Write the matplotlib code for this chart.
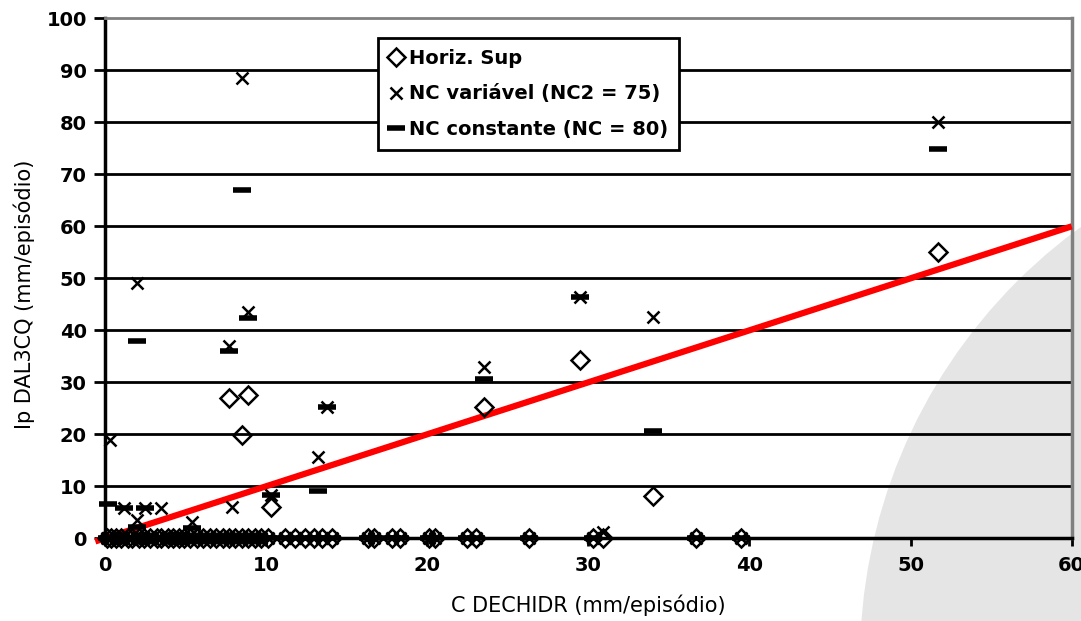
import matplotlib
matplotlib.use('Agg')
from matplotlib import pyplot as plt
from matplotlib import patches
from matplotlib.transforms import IdentityTransform

plt.rcParams['font.family'] = ['DejaVu Sans']

##### Data #####
# events where all three series sit at zero
zero_x = [0.1, 0.4, 0.7, 1.0, 1.4, 1.7, 2.1, 2.4, 2.8, 3.2, 3.5, 3.9, 4.2, 4.6,
          4.9, 5.3, 5.7, 6.1, 6.5, 6.9, 7.3, 7.7, 8.1, 8.5, 8.9, 9.3, 9.7, 10.1,
          11.2, 11.8, 12.4, 13.0, 13.5, 14.1, 16.3, 16.7, 17.8, 18.3, 20.1, 20.5,
          22.5, 23.0, 26.3, 30.3, 36.7, 39.5]

hs_x = [7.7, 8.9, 8.5, 10.3, 23.5, 29.5, 34.0, 51.7, 30.9]
hs_y = [26.9, 27.6, 19.9, 6.0, 25.3, 34.3, 8.1, 55.0, 0.0]

nv_x = [0.3, 2.0, 8.5, 8.9, 7.7, 13.8, 13.2, 10.3, 7.9, 1.2, 2.5, 3.5, 2.0, 5.4,
        23.5, 29.5, 34.0, 51.7, 30.9]
nv_y = [19.0, 49.1, 88.5, 43.6, 37.0, 25.3, 15.6, 8.3, 6.1, 5.8, 5.8, 5.8, 3.5, 3.2,
        32.9, 46.4, 42.5, 80.0, 1.3]

nc_x = [0.2, 2.0, 8.5, 8.9, 7.7, 13.8, 13.2, 10.3, 1.2, 2.5, 2.0, 5.4, 23.5, 29.5,
        34.0, 51.7]
nc_y = [6.6, 38.0, 67.0, 42.3, 36.0, 25.3, 9.1, 8.3, 5.8, 5.8, 2.2, 1.9, 30.7, 46.4,
        20.6, 74.9]

line_x = [-0.6, 60]
line_y = [-0.6, 60]

##### Figure #####
fig = plt.figure(figsize=(10.81, 6.21), dpi=100)
ax = fig.add_axes([0.0971, 0.1332, 0.8943, 0.8372])
ax.set_facecolor('none')

# light grey watermark disc in the lower right corner
disc = patches.Circle((1395, -39), 535, transform=IdentityTransform(),
                      facecolor='#e5e5e5', edgecolor='none', zorder=-5)
fig.patches.append(disc)

ax.set_xlim(0, 60)
ax.set_ylim(0, 100)
ax.set_xticks(range(0, 61, 10))
ax.set_yticks(range(0, 101, 10))

for yv in range(10, 100, 10):
    ax.axhline(yv, color='black', lw=2, zorder=1)

ax.spines['left'].set_linewidth(2.5)
ax.spines['bottom'].set_linewidth(2.5)
ax.spines['top'].set_color('#808080')
ax.spines['right'].set_color('#808080')
ax.spines['top'].set_linewidth(2)
ax.spines['right'].set_linewidth(2.5)

ax.tick_params(axis='y', direction='out', length=8, width=2, labelsize=14, pad=5)
ax.tick_params(axis='x', direction='out', length=6, width=2, labelsize=14, pad=7)
for lbl in ax.get_xticklabels() + ax.get_yticklabels():
    lbl.set_fontweight('bold')

zeros = [0.0] * len(zero_x)

mk = dict(linestyle='none', color='black', clip_on=False, zorder=4)
ax.plot(hs_x + zero_x, hs_y + zeros, marker='D', markersize=9, markerfacecolor='none',
        markeredgewidth=1.8, label='Horiz. Sup', **mk)
ax.plot(nv_x + zero_x, nv_y + zeros, marker='x', markersize=8, markeredgewidth=1.8,
        label='NC variável (NC2 = 75)', **mk)
ax.plot(nc_x + zero_x, nc_y + zeros, marker='_', markersize=13, markeredgewidth=4,
        label='NC constante (NC = 80)', **mk)

ax.plot(line_x, line_y, color='red', lw=4.5, solid_capstyle='butt', clip_on=False, zorder=3)

ax.set_xlabel('C DECHIDR (mm/episódio)', fontsize=15, labelpad=14)
ax.set_ylabel('Ip DAL3CQ (mm/episódio)', fontsize=15, labelpad=12)
ax.yaxis.set_label_coords(-0.072, 0.47)

leg = ax.legend(loc='upper left', bbox_to_anchor=(0.282, 0.962),
                prop={'size': 14, 'weight': 'bold'},
                frameon=True, fancybox=False, framealpha=1, edgecolor='black',
                handlelength=0.75, handletextpad=0.3, labelspacing=0.85,
                borderpad=0.55, borderaxespad=0)
leg.get_frame().set_linewidth(2)

plt.savefig('out.png', dpi=100)
